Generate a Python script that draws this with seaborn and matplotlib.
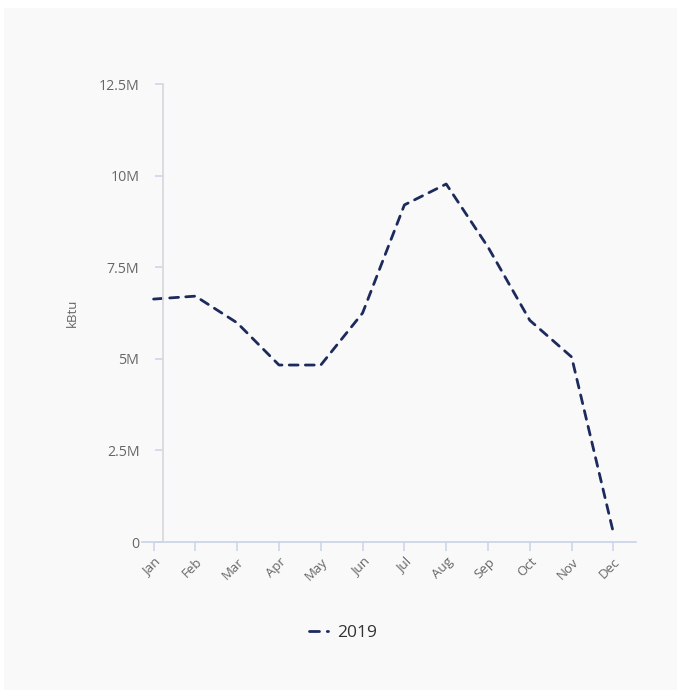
import matplotlib
matplotlib.use("Agg")
import matplotlib.pyplot as plt
from matplotlib.patches import Rectangle
from matplotlib.lines import Line2D
import seaborn as sns
import pandas as pd

months = ["Jan", "Feb", "Mar", "Apr", "May", "Jun",
          "Jul", "Aug", "Sep", "Oct", "Nov", "Dec"]
energy_2019 = [6.63e6, 6.71e6, 5.98e6, 4.83e6, 4.83e6, 6.25e6,
               9.20e6, 9.77e6, 8.05e6, 6.05e6, 5.05e6, 0.25e6]
series_name = "2019"
y_ticks = [0, 2.5e6, 5e6, 7.5e6, 10e6, 12.5e6]
y_tick_labels = ["0", "2.5M", "5M", "7.5M", "10M", "12.5M"]
y_label = "kBtu"

sns.set_theme(style="white")
plt.rcParams["font.family"] = ["Open Sans", "DejaVu Sans"]

W, H = 677, 690
fig = plt.figure(figsize=(W / 100, H / 100), dpi=100)
fig.patch.set_facecolor("white")

# light grey card behind the chart
fig.patches.append(Rectangle((4 / W, 0), (W - 4) / W, (H - 8) / H,
                             transform=fig.transFigure, facecolor="#f9f9f9",
                             edgecolor="none", zorder=-10))

left_px, right_px, top_px, bottom_px = 142, 636, 84, 542
ax = fig.add_axes([left_px / W, (H - bottom_px) / H,
                   (right_px - left_px) / W, (bottom_px - top_px) / H])
ax.set_facecolor("none")
ax.set_zorder(5)

df = pd.DataFrame({"month": range(len(months)), "value": energy_2019,
                   "series": series_name})
line_color = "#1c2a5c"
sns.lineplot(data=df, x="month", y="value", ax=ax, color=line_color,
             linewidth=2.0, legend=False, clip_on=False)
ln = ax.lines[0]
ln.set_dashes((3.2, 2.6))
ln.set_dash_capstyle("round")

px_per_month = 41.8
jan_px = 153.6
ax.set_xlim((left_px - jan_px) / px_per_month, (right_px - jan_px) / px_per_month)
ax.set_ylim(0, 12.5e6)

# axis styling
for s in ["top", "right"]:
    ax.spines[s].set_visible(False)
ax.spines["left"].set_position(("data", (163 - jan_px) / px_per_month))
ax.spines["left"].set_color("#d8d8de")
ax.spines["left"].set_linewidth(1.3)
ax.spines["bottom"].set_color("#ccd6eb")
ax.spines["bottom"].set_linewidth(1.3)

ax.set_xticks(range(len(months)))
ax.set_xticklabels(months, rotation=45, ha="right", rotation_mode="anchor")
ax.set_yticks(y_ticks)
ax.set_yticklabels(y_tick_labels)
ax.tick_params(axis="x", bottom=True, direction="out", length=6.5, width=1.2,
               color="#ccd6eb", labelsize=9.5, labelcolor="#666666", pad=3)
ax.tick_params(axis="y", left=True, direction="out", length=6, width=1.2,
               color="#ccd6eb", labelsize=10.2, labelcolor="#666666", pad=11)
ax.set_xlabel("")
ax.set_ylabel(y_label, fontsize=9.5, color="#666666", labelpad=14)

# legend key: one dash followed by a dot
handle = Line2D([0], [0], color=line_color, linewidth=2.0, dashes=(3.6, 2.8),
                dash_capstyle="round")
fig.legend([handle], [series_name], loc="center", bbox_to_anchor=(343 / W, 1 - 633 / H),
           frameon=False, handlelength=1.08, handletextpad=0.5,
           prop={"size": 12.5}, labelcolor="#333333")

fig.savefig("out.png", dpi=100, facecolor=fig.get_facecolor())
